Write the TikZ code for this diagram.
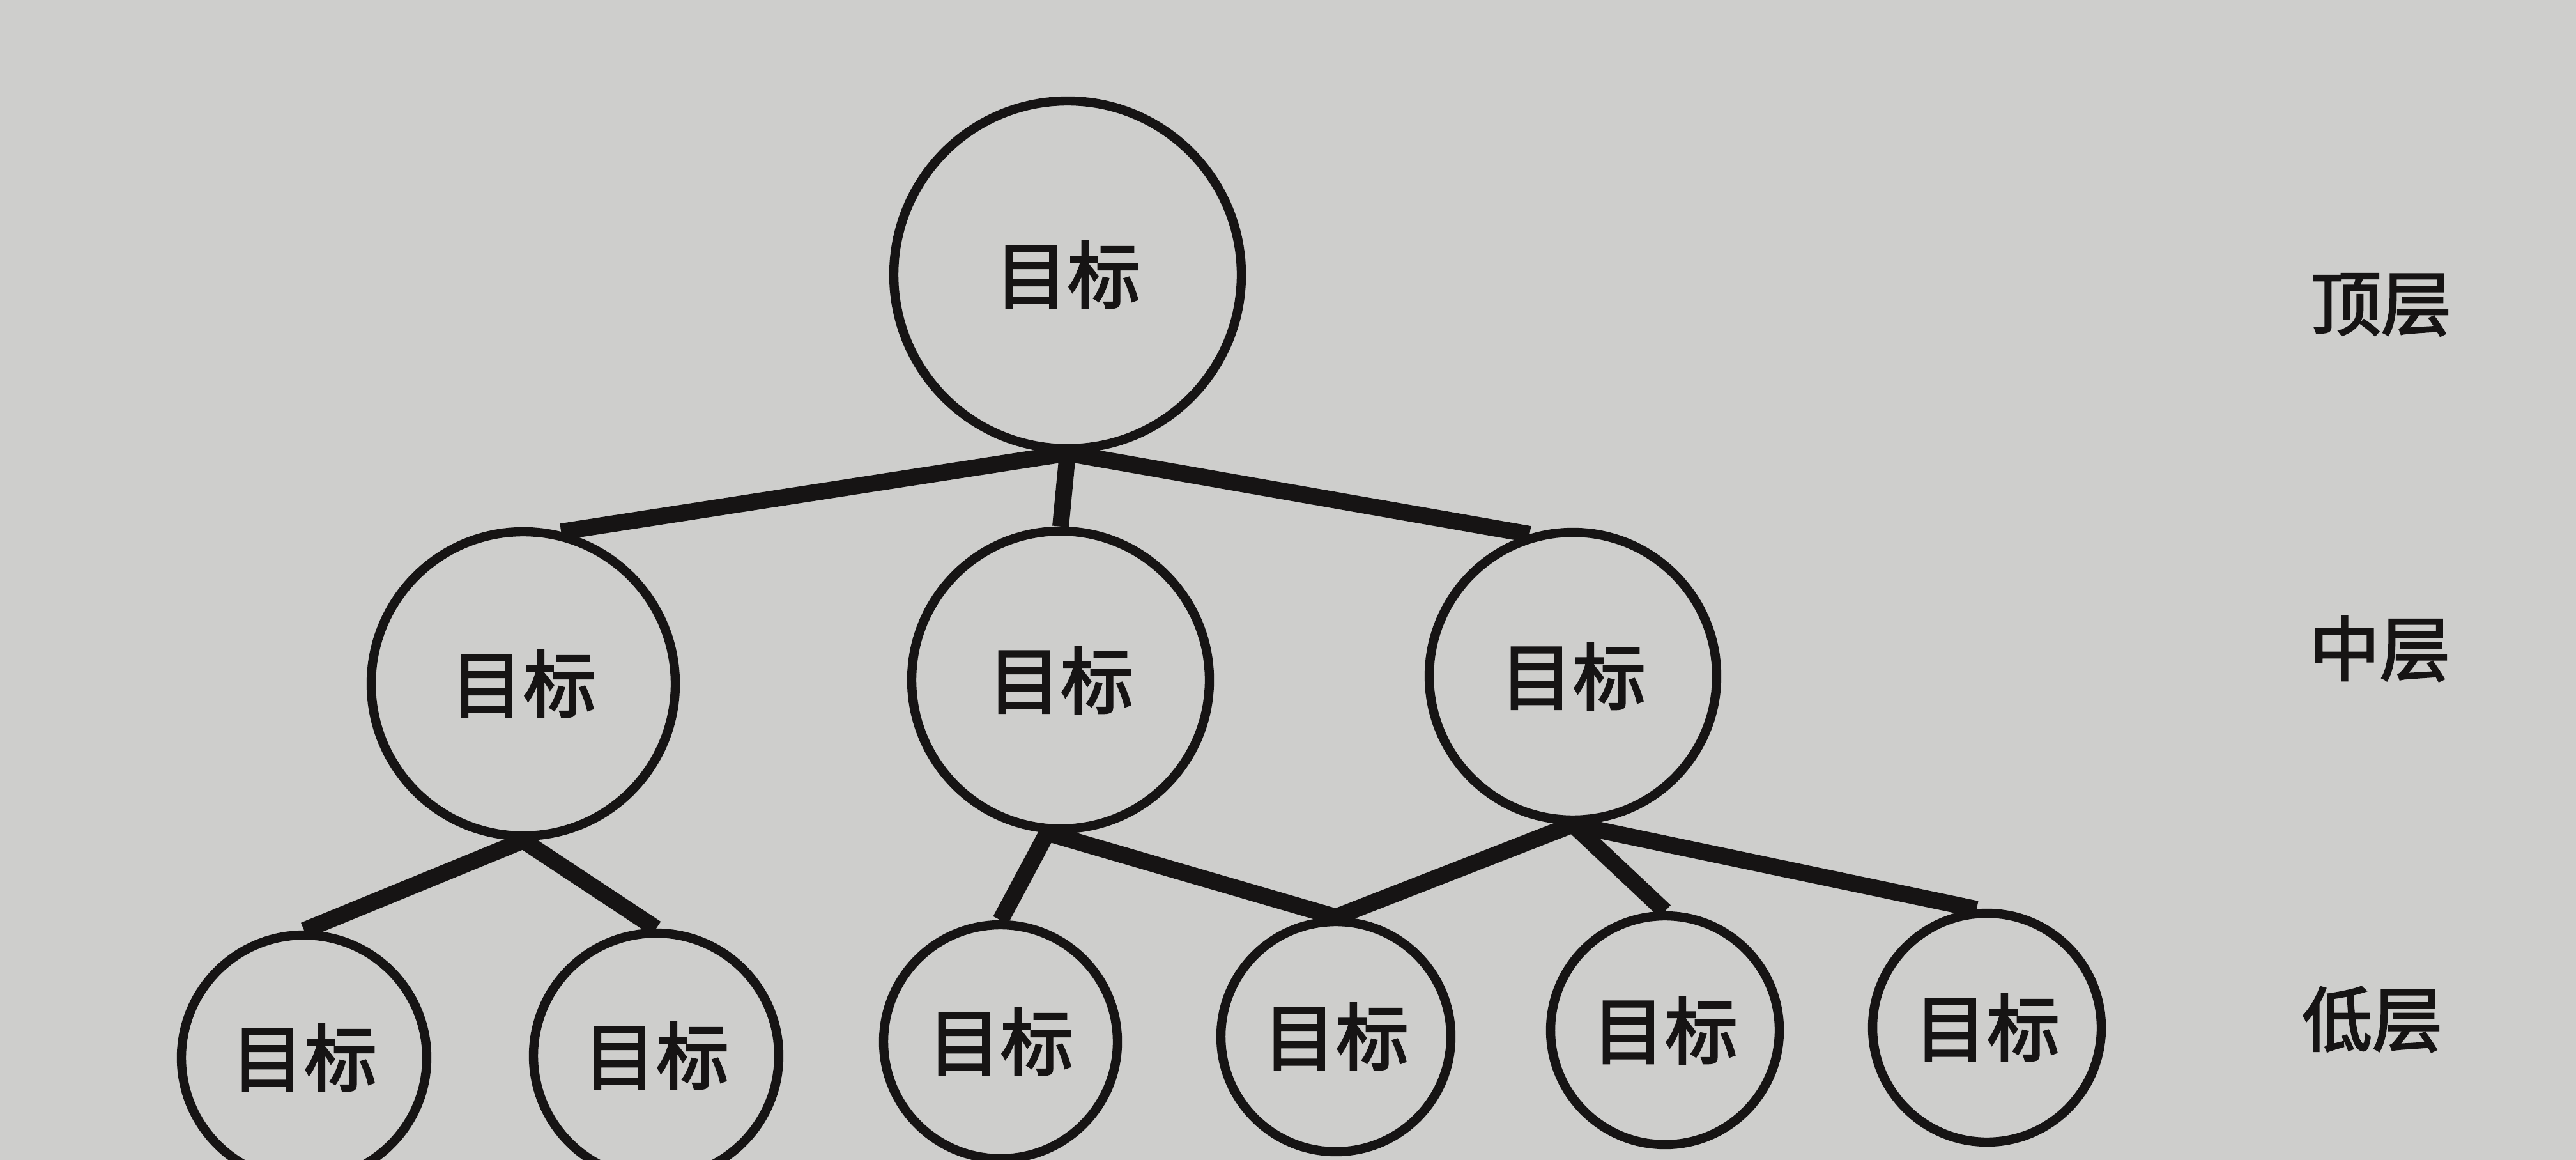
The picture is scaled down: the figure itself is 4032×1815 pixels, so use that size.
\documentclass[tikz,border=0pt]{standalone}
\usepackage{fontspec}
\newfontfamily\cjk{Noto Sans CJK SC}[UprightFeatures={FakeBold=2.5}]
\definecolor{paper}{RGB}{206,206,204}
\definecolor{ink}{RGB}{22,20,20}
\begin{document}
\begin{tikzpicture}[x=0.25pt,y=-0.25pt,
  goal/.style={circle,draw=ink,line width=3.6pt,inner sep=0pt,text=ink,
    font=\cjk\fontsize{28.5}{30}\selectfont},
  lvl/.style={text=ink,font=\cjk\fontsize{27.5}{29}\selectfont},
  link/.style={draw=ink,line width=6.5pt}]
\fill[paper] (0,0) rectangle (4032,1815);
\useasboundingbox (0,0) rectangle (4032,1815);
% nodes
\node[goal,minimum size=136pt] (top) at (1671,430) {目标};
\node[goal,minimum size=119pt] (m1) at (819,1070) {目标};
\node[goal,minimum size=116.5pt] (m2) at (1660,1064) {目标};
\node[goal,minimum size=112.5pt] (m3) at (2462,1058) {目标};
\node[goal,minimum size=96pt] (b1) at (476,1655) {目标};
\node[goal,minimum size=96pt] (b2) at (1027,1652) {目标};
\node[goal,minimum size=91.5pt] (b3) at (1566,1630) {目标};
\node[goal,minimum size=90pt] (b4) at (2091,1622) {目标};
\node[goal,minimum size=89.5pt] (b5) at (2606,1612) {目标};
\node[goal,minimum size=89.5pt] (b6) at (3110,1608) {目标};
% level labels
\node[lvl] (l1) at (3727,477) {顶层};
\node[lvl] (l2) at (3725,1015) {中层};
\node[lvl] (l3) at (3713,1595) {低层};
% connectors
\draw[link] (top.south) -- (m1.76);
\draw[link] (top.south) -- (m2.north);
\draw[link] (top.south) -- (m3.107);
\draw[link] (m1.south) -- (b1.north);
\draw[link] (m1.south) -- (b2.north);
\draw[link] (m2.265) -- (b3.north);
\draw[link] (m2.265) -- (b4.north);
\draw[link] (m3.south) -- (b4.north);
\draw[link] (m3.south) -- (b5.north);
\draw[link] (m3.south) -- (b6.95);
\end{tikzpicture}
\end{document}
